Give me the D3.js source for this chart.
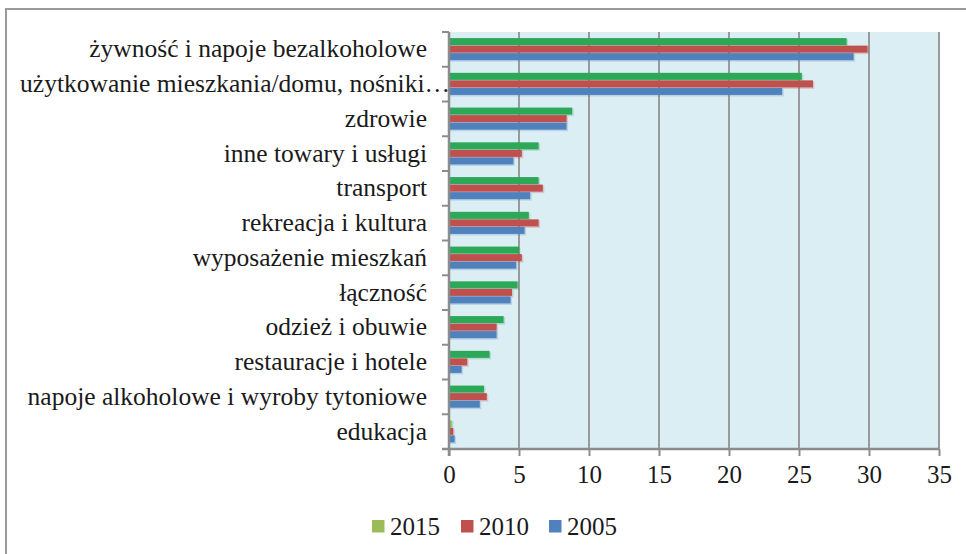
<!DOCTYPE html>
<html>
<head>
<meta charset="utf-8">
<script src="https://cdn.jsdelivr.net/npm/d3@7"></script>
<style>
  html, body { margin: 0; padding: 0; background: #fff; }
  svg { display: block; }
  text { font-family: "Liberation Serif", "Times New Roman", serif; fill: #1a1a1a; }
</style>
</head>
<body>
<svg id="chart" width="966" height="554"></svg>
<script>
// ---- data ----
const categories = [
  "żywność i napoje bezalkoholowe",
  "użytkowanie mieszkania/domu, nośniki…",
  "zdrowie",
  "inne towary i usługi",
  "transport",
  "rekreacja i kultura",
  "wyposażenie mieszkań",
  "łączność",
  "odzież i obuwie",
  "restauracje i hotele",
  "napoje alkoholowe i wyroby tytoniowe",
  "edukacja"
];
const seriesNames = ["2015", "2010", "2005"];
const values2015 = [28.4, 25.2, 8.8, 6.4, 6.4, 5.7, 5.0, 4.9, 3.9, 2.9, 2.5, 0.2];
const values2010 = [29.9, 26.0, 8.4, 5.2, 6.7, 6.4, 5.2, 4.5, 3.4, 1.3, 2.7, 0.3];
const values2005 = [28.9, 23.8, 8.4, 4.6, 5.8, 5.4, 4.8, 4.4, 3.4, 0.9, 2.2, 0.4];
const xTicks = [0, 5, 10, 15, 20, 25, 30, 35];

// ---- styles ----
const legendColors = { "2015": "#9BBB59", "2010": "#C0504D", "2005": "#4F81BD" };
const barColors = { "2015": "#2CA858", "2010": "#C0504D", "2005": "#4F81BD" };

const svg = d3.select("#chart");
const W = 966, H = 554;
const plot = { left: 449, right: 939, top: 32, bottom: 449 };

// outer frame
svg.append("rect")
  .attr("x", 6).attr("y", 9)
  .attr("width", W + 10).attr("height", H + 10)
  .attr("fill", "none").attr("stroke", "#9a9a9a").attr("stroke-width", 2);

const x = d3.scaleLinear().domain([0, 35]).range([plot.left, plot.right]);
const y0 = d3.scaleBand().domain(categories).range([plot.top, plot.bottom])
  .paddingInner(0.35).paddingOuter(0.175);
const y1 = d3.scaleBand().domain(seriesNames).range([0, y0.bandwidth()]);

// plot background
svg.append("rect")
  .attr("x", plot.left).attr("y", plot.top)
  .attr("width", plot.right - plot.left).attr("height", plot.bottom - plot.top)
  .attr("fill", "#DBEEF4");

// vertical gridlines
svg.append("g").selectAll("line").data(xTicks.filter(d => d > 0)).join("line")
  .attr("x1", d => x(d)).attr("x2", d => x(d))
  .attr("y1", plot.top).attr("y2", plot.bottom)
  .attr("stroke", "#9a9a9a").attr("stroke-width", 2);

// bars
const data = categories.map((c, i) => ({
  cat: c,
  vals: [
    { s: "2015", v: values2015[i] },
    { s: "2010", v: values2010[i] },
    { s: "2005", v: values2005[i] }
  ]
}));

const groups = svg.append("g").selectAll("g").data(data).join("g")
  .attr("transform", d => `translate(0,${y0(d.cat)})`);

// light shadow behind bars
groups.selectAll("rect.sh").data(d => d.vals).join("rect")
  .attr("class", "sh")
  .attr("x", x(0)).attr("y", d => y1(d.s) + 1)
  .attr("width", d => x(d.v) - x(0) + 1.5)
  .attr("height", y1.bandwidth())
  .attr("fill", d => barColors[d.s]).attr("opacity", 0.25);

groups.selectAll("rect.bar").data(d => d.vals.map(v => Object.assign({ cat: d.cat }, v))).join("rect")
  .attr("class", "bar")
  .attr("x", x(0)).attr("y", d => y1(d.s))
  .attr("width", d => x(d.v) - x(0))
  .attr("height", y1.bandwidth() - 0.5)
  .attr("fill", d => (d.cat === "edukacja" && d.s === "2015") ? legendColors["2015"] : barColors[d.s]);

// x axis
const xAxis = d3.axisBottom(x).tickValues(xTicks).tickSize(7).tickPadding(8).tickFormat(d3.format("d"));
const gx = svg.append("g").attr("transform", `translate(0,${plot.bottom})`).call(xAxis);
gx.select(".domain").attr("stroke", "#8c8c8c").attr("stroke-width", 2.5)
  .attr("d", `M${plot.left - 7},0H${plot.right}`);
gx.selectAll(".tick line").attr("stroke", "#8c8c8c").attr("stroke-width", 2);
gx.selectAll(".tick text").attr("font-size", 25).attr("font-family", "Liberation Serif").attr("fill", "#1a1a1a")
  .attr("dy", "0.75em");

// y axis line and ticks at band boundaries
svg.append("line")
  .attr("x1", plot.left).attr("x2", plot.left)
  .attr("y1", plot.top).attr("y2", plot.bottom + 7)
  .attr("stroke", "#8c8c8c").attr("stroke-width", 2.5);
const step = y0.step();
const boundaries = d3.range(categories.length + 1).map(i => plot.top + i * step);
svg.append("g").selectAll("line").data(boundaries).join("line")
  .attr("x1", plot.left - 7).attr("x2", plot.left)
  .attr("y1", d => d).attr("y2", d => d)
  .attr("stroke", "#8c8c8c").attr("stroke-width", 2);

// category labels
svg.append("g").selectAll("text").data(categories).join("text")
  .attr("x", d => d.endsWith("…") ? 450 : 427)
  .attr("y", d => y0(d) + y0.bandwidth() / 2 + 8)
  .attr("text-anchor", "end")
  .attr("font-size", 25.5)
  .text(d => d);

// legend
const legend = svg.append("g");
const legendX = [372, 461, 549];
seriesNames.forEach((s, i) => {
  legend.append("rect")
    .attr("x", legendX[i]).attr("y", 520)
    .attr("width", 12.5).attr("height", 12.5)
    .attr("fill", legendColors[s]);
  legend.append("text")
    .attr("x", legendX[i] + 18).attr("y", 535)
    .attr("font-size", 25)
    .text(s);
});
</script>
</body>
</html>
